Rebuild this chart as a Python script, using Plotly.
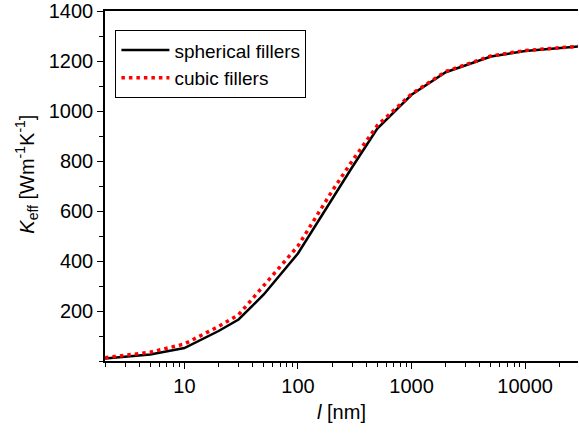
import plotly.graph_objects as go

# filler size l [nm]
l_nm = [2, 3, 5, 10, 20, 30, 50, 100, 200, 300, 500, 1000, 2000, 5000, 10000, 20000, 30000]
# effective thermal conductivity [W m^-1 K^-1]
k_spherical = [10, 16, 26, 52, 120, 166, 266, 430, 650, 775, 930, 1065, 1155, 1218, 1240, 1253, 1258]
k_cubic = [13, 22, 35, 68, 138, 185, 300, 460, 680, 800, 942, 1068, 1158, 1220, 1242, 1254, 1259]

x_ticks = [10, 100, 1000, 10000]
x_ticktext = ["10", "100", "1000", "10000"]
y_ticks = [200, 400, 600, 800, 1000, 1200, 1400]

fig = go.Figure()
fig.add_trace(go.Scatter(x=l_nm, y=k_spherical, mode="lines", name="spherical fillers",
                         line=dict(color="black", width=2.5)))
fig.add_trace(go.Scatter(x=l_nm, y=k_cubic, mode="lines", name="cubic fillers",
                         line=dict(color="#ff0000", width=3.5, dash="3.5px,4px")))

font = "Arial, Liberation Sans, sans-serif"
fig.update_layout(
    width=579, height=437,
    margin=dict(l=105, r=1, t=11, b=76),
    plot_bgcolor="white", paper_bgcolor="white",
    font=dict(family=font, size=20, color="black"),
    showlegend=True,
    legend=dict(x=0.022, y=0.945, xanchor="left", yanchor="top",
                bordercolor="black", borderwidth=1, bgcolor="white",
                font=dict(size=19), tracegroupgap=0, itemwidth=48),
    annotations=[dict(
        text="<i>K</i><sub>eff</sub> [Wm<sup>-1</sup>K<sup>-1</sup>]",
        xref="paper", yref="paper", x=-0.165, y=0.535,
        xanchor="center", yanchor="middle", textangle=-90,
        showarrow=False, font=dict(size=20),
    )],
)
fig.update_xaxes(
    type="log", range=[0.301, 4.466], automargin=False,
    tickvals=x_ticks, ticktext=x_ticktext, tickfont=dict(size=20),
    ticklabeloverflow="allow",
    ticks="outside", ticklen=6, tickwidth=1, tickcolor="black",
    minor=dict(dtick="D1", ticks="outside", ticklen=4, tickcolor="black"),
    showline=True, linecolor="black", linewidth=1.5, mirror=True,
    showgrid=False, zeroline=False,
    title=dict(text="<i>l</i> [nm]", font=dict(size=20), standoff=9),
)
fig.update_yaxes(
    range=[0, 1400], automargin=False,
    tickvals=y_ticks, tickfont=dict(size=20),
    ticklabeloverflow="allow",
    ticks="outside", ticklen=6, tickwidth=1, tickcolor="black",
    minor=dict(dtick=100, tick0=0, ticks="outside", ticklen=4, tickcolor="black"),
    showline=True, linecolor="black", linewidth=1.5,
    showgrid=False, zeroline=False,
)
fig.write_html("out.html", config={"displayModeBar": False},
               post_script="document.body.style.margin='0';")
